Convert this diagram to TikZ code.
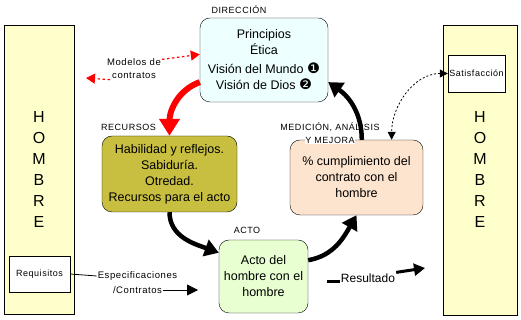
\documentclass[tikz,border=0pt]{standalone}
\usepackage{fontspec}
\setmainfont{Liberation Sans}
\newfontfamily\capsfont[LetterSpace=6]{Liberation Sans}
\newfontfamily\symfont{DejaVu Sans}
\usetikzlibrary{arrows.meta}

\definecolor{hombrefill}{HTML}{FFFFCC}
\definecolor{dirfill}{HTML}{EEFFFF}
\definecolor{recfill}{HTML}{C8BF40}
\definecolor{medfill}{HTML}{FDE4CE}
\definecolor{actofill}{HTML}{E8FFD2}
\definecolor{redarrow}{HTML}{FF0000}

\newcommand{\numdot}[1]{{\symfont\fontsize{14.5}{16}\selectfont #1}}

\begin{document}
\begin{tikzpicture}[
    x=1pt,y=1pt,
    hombre/.style={draw, rectangle, fill=hombrefill, align=center, inner sep=0pt, font=\fontsize{16}{21}\selectfont},
    card/.style={draw, rectangle, rounded corners=10pt, align=center, inner sep=2pt, font=\fontsize{12.5}{16}\selectfont},
    tag/.style={draw, rectangle, fill=white, align=center, inner sep=0pt, font=\capsfont\fontsize{9}{11}\selectfont},
    caption/.style={align=center, inner sep=1pt, font=\capsfont\fontsize{9}{11}\selectfont},
    note/.style={align=center, inner sep=1pt, fill=white, font=\capsfont\fontsize{9.5}{13}\selectfont},
    flow/.style={line width=4.5pt, -{Triangle[length=14pt,width=17pt]}},
    redflow/.style={line width=6pt, redarrow, -{Triangle[length=17pt,width=20pt]}},
    reddots/.style={line width=1.2pt, redarrow, dash pattern=on 2.5pt off 2.5pt, -{Triangle[length=9pt,width=10pt]}},
    dotlink/.style={line width=0.8pt, dash pattern=on 2pt off 2pt, {Triangle[length=8pt,width=8pt]}-{Triangle[length=8pt,width=8pt]}}
]
    \useasboundingbox (0,0) rectangle (521,320);

    % ================= HOMBRE =================
    \node[hombre, minimum width=70pt, minimum height=289pt] (hombreL) at (39,150.5) {H\\O\\M\\B\\R\\E};
    \node[hombre, minimum width=74pt, minimum height=290pt] (hombreR) at (480,150) {H\\O\\M\\B\\R\\E};
    \node[tag, minimum width=61pt, minimum height=36pt] (req) at (39.5,46) {Requisitos};
    \node[tag, minimum width=57pt, minimum height=37pt] (sat) at (476.5,246.5) {Satisfacción};

    % ================= BOXES =================
    \node[card, fill=dirfill, minimum width=128pt, minimum height=84pt] (dir) at (264,260)
        {Principios\\Ética\\[3pt]Visión del Mundo \numdot{❶}\\Visión de Dios \numdot{❷}};
    \node[card, fill=recfill, minimum width=135pt, minimum height=76pt] (rec) at (169.5,146)
        {Habilidad y reflejos.\\Sabiduría.\\Otredad.\\Recursos para el acto};
    \node[card, fill=medfill, minimum width=133pt, minimum height=75pt] (med) at (356.5,142.5)
        {\% cumplimiento del\\contrato con el\\hombre};
    \node[card, fill=actofill, minimum width=89pt, minimum height=73pt] (acto) at (263.5,43.5)
        {Acto del\\hombre con el\\hombre};

    % ================= TITLES =================
    \node[caption] (dirlbl) at (239,310) {DIRECCIÓN};
    \node[caption] (reclbl) at (128.5,193) {RECURSOS};
    \node[caption] (actolbl) at (247,90) {ACTO};
    \node[caption] (medlbl) at (330,193) {MEDICIÓN, ANÁLISIS};

    % ================= CYCLE =================
    \draw[redflow] (dir.199) to[out=200,in=90] (rec.north);
    \draw[flow] (rec.south) to[out=-90,in=160] (acto.152);
    \draw[flow] (acto.20) to[out=10,in=-120] (med.south);
    \draw[flow] (med.82) to[out=90,in=-35] (dir.-19);
    \node[caption, fill=white, inner sep=0.5pt] (medlbl2) at (330,180) {Y MEJORA};

    % ================= LINKS =================
    \node[note] (modelos) at (134,251.5) {Modelos de\\contratos};
    \coordinate (modl) at (86,242);
    \draw[reddots] (modelos.18) -- (dir.175);
    \draw[reddots] (modelos.205) -- (modl);

    \draw[dotlink] (sat.west) to[out=180,in=90] (med.47);

    \node[note] (especA) at (137.5,44) {Especificaciones};
    \node[note] (especB) at (137.5,30) {/Contratos};
    \coordinate (espend) at (198,30);
    \draw[line width=0.8pt] (req.east) -- (especA.west);
    \draw[line width=0.8pt, -{Triangle[length=11pt,width=11pt]}] (especB.east) -- (espend);

    \node[inner sep=1pt, font=\fontsize{12}{14}\selectfont] (res) at (368,42) {Resultado};
    \coordinate (resA) at (327,38);
    \coordinate (resB) at (425,52);
    \draw[line width=3pt] (resA) -- (res.west |- resA);
    \draw[line width=3pt, -{Triangle[length=11pt,width=12pt]}] (res.north east) -- (resB);

\end{tikzpicture}
\end{document}
